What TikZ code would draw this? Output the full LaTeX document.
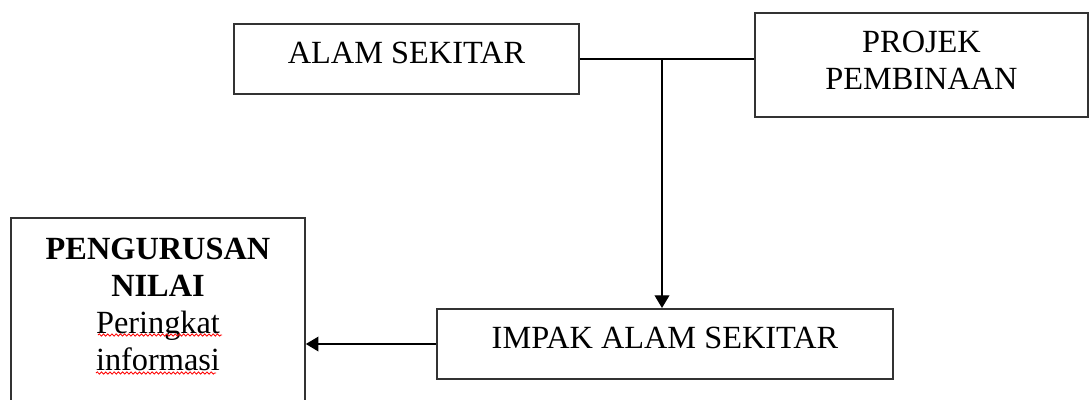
\documentclass[tikz,border=0pt]{standalone}
\usepackage{fontspec}
\setmainfont{Liberation Serif}
\usetikzlibrary{positioning, arrows.meta, decorations.pathmorphing}

\newcommand{\boxpad}[1]{\rule[-#1]{0pt}{#1}}

\begin{document}
\begin{tikzpicture}[
    box/.style={draw=black!80, line width=1.2pt, anchor=north, align=center,
        inner xsep=6pt, inner ysep=12.8pt, font=\fontsize{23}{26.3}\selectfont},
    link/.style={line width=0.9pt},
    tip/.style={-{Triangle[length=9pt, width=10.5pt]}},
    spellwave/.style={draw=red, line width=0.6pt, decorate,
        decoration={snake, amplitude=0.8pt, segment length=3pt}}
]
    \useasboundingbox (0, 0) rectangle (27.275, 9.975);
    \clip (0, 0) rectangle (27.275, 9.975);

    % Boxes
    \node[box, minimum width=8.625cm] (alam) at (10.1625, 9.4) {ALAM SEKITAR\boxpad{9.2pt}};
    \node[box, minimum width=8.325cm] (projek) at (23.0375, 9.675) {PROJEK\\PEMBINAAN\boxpad{7pt}};
    \node[box, minimum width=11.4cm] (impak) at (16.625, 2.275) {IMPAK ALAM SEKITAR\boxpad{9.2pt}};
    \node[box, minimum width=7.35cm, inner ysep=14.2pt] (nilai) at (3.95, 4.55)
        {\textbf{PENGURUSAN}\\\textbf{NILAI}\\Peringkat\\informasi\boxpad{40pt}};

    % Branch point
    \coordinate (split) at (16.55, 8.525);

    % Connections
    \draw[link] (alam.east) -- (alam.east -| projek.west);
    \draw[link, tip] (split) -- (split |- impak.north);
    \draw[link, tip] (impak.west) -- (impak.west -| nilai.east);

    % Spelling marks
    \draw[spellwave] (2.45, 1.6) -- (5.55, 1.6);
    \draw[spellwave] (2.4, 0.65) -- (5.4, 0.65);

\end{tikzpicture}
\end{document}
